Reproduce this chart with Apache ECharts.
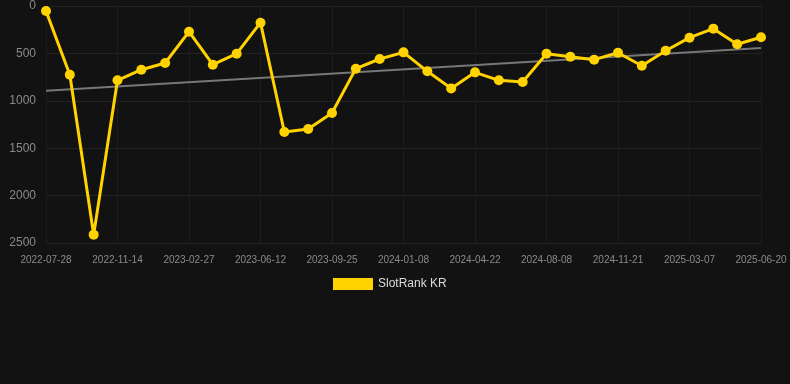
<!DOCTYPE html>
<html>
<head>
<meta charset="utf-8">
<script src="https://cdn.jsdelivr.net/npm/echarts@6/dist/echarts.min.js"></script>
<style>
	html, body { margin: 0; padding: 0; background: #121212; }
	#chart { width: 790px; height: 384px; }
</style>
</head>
<body>
<div id="chart"></div>
<script>
var dates = [
	'2022-07-28', '2022-09-02', '2022-10-08', '2022-11-14', '2022-12-19', '2023-01-23',
	'2023-02-27', '2023-04-03', '2023-05-08', '2023-06-12', '2023-07-17', '2023-08-21',
	'2023-09-25', '2023-10-30', '2023-12-04', '2024-01-08', '2024-02-12', '2024-03-18',
	'2024-04-22', '2024-05-27', '2024-07-02', '2024-08-08', '2024-09-12', '2024-10-17',
	'2024-11-21', '2024-12-26', '2025-01-30', '2025-03-07', '2025-04-11', '2025-05-16',
	'2025-06-20'
];
var rankKR = [
	53, 725, 2412, 784, 672, 601, 271, 619, 503, 176,
	1329, 1297, 1129, 661, 559, 489, 689, 869, 700, 784, 802,
	503, 535, 566, 493, 630, 472, 334, 239, 404, 330
];
var trendStart = 894;
var trendEnd = 443;
var yTicks = { min: 0, max: 2500, interval: 500 };

var trend = dates.map(function(d, i) {
	if (i === 0) return trendStart;
	if (i === dates.length - 1) return trendEnd;
	return null;
});

var chart = echarts.init(document.getElementById('chart'), null, { renderer: 'canvas' });
chart.setOption({
	backgroundColor: '#121212',
	animation: false,
	grid: { left: 46, right: 29, top: 6, bottom: 141 },
	legend: {
		data: ['SlotRank KR'],
		top: 273,
		left: 328,
		icon: 'rect',
		itemWidth: 40,
		itemHeight: 12,
		textStyle: { color: '#dddddd', fontSize: 12, fontFamily: 'Liberation Sans, Arial, sans-serif' }
	},
	xAxis: {
		type: 'category',
		data: dates,
		boundaryGap: false,
		axisLine: { show: false },
		axisTick: { show: false },
		axisLabel: {
			interval: 2,
			color: '#8a8a8a',
			fontSize: 10,
			margin: 12,
			fontFamily: 'Liberation Sans, Arial, sans-serif'
		},
		splitLine: { show: true, interval: 2, lineStyle: { color: '#1c1c1c', width: 1 } }
	},
	yAxis: {
		type: 'value',
		inverse: true,
		min: yTicks.min,
		max: yTicks.max,
		interval: yTicks.interval,
		axisLine: { show: false },
		axisTick: { show: false },
		axisLabel: {
			color: '#8a8a8a',
			fontSize: 12,
			margin: 10,
			fontFamily: 'Liberation Sans, Arial, sans-serif',
			formatter: function(v) { return String(v); }
		},
		splitLine: { lineStyle: { color: '#222222', width: 1 } }
	},
	series: [{
		name: 'Trend',
		type: 'line',
		data: trend,
		connectNulls: true,
		symbol: 'none',
		silent: true,
		lineStyle: { color: '#777777', width: 2 },
		z: 1
	}, {
		name: 'SlotRank KR',
		type: 'line',
		data: rankKR,
		symbol: 'circle',
		symbolSize: 10,
		itemStyle: { color: '#ffd200' },
		lineStyle: { color: '#ffd200', width: 3 },
		z: 2
	}]
});
</script>
</body>
</html>
